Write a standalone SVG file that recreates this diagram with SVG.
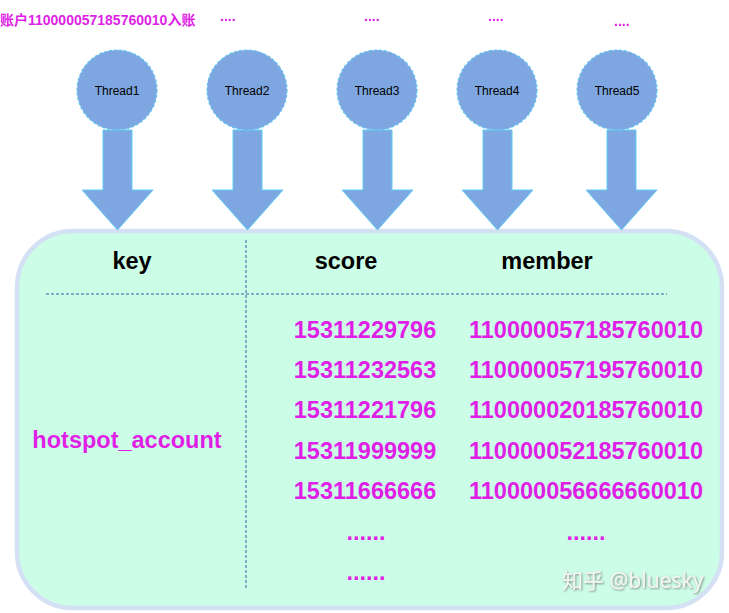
<svg xmlns="http://www.w3.org/2000/svg" width="729" height="613" viewBox="0 0 729 613">
<defs>
<style>
.circ{fill:#7ea6e0;stroke:#5fc4ef;stroke-width:1.2;stroke-dasharray:3 2}
.arrow{fill:#7ea6e0;stroke:#5fd0f5;stroke-width:1}
.tl{font-family:"Liberation Sans",Arial,sans-serif;font-size:12px;fill:#000;text-anchor:middle}
.hd{font-family:"Liberation Sans",Arial,sans-serif;font-size:23.5px;font-weight:bold;fill:#000;text-anchor:middle}
.mg{font-family:"Liberation Sans",Arial,sans-serif;font-size:23.5px;font-weight:bold;fill:#e01fe6;text-anchor:middle}
.top{font-family:"Liberation Sans","Noto Sans CJK SC",sans-serif;font-size:14px;font-weight:bold;fill:#e01fe6}
.dash{stroke:#2f63a8;stroke-width:1;stroke-dasharray:3 2;fill:none}
.wm{font-family:"Noto Sans","Noto Sans CJK SC",sans-serif;font-size:21px;fill:#f4f4f4}
</style>
<filter id="sh" x="-10%" y="-30%" width="120%" height="160%">
<feDropShadow dx="1" dy="1" stdDeviation="0.8" flood-color="#555" flood-opacity="0.7"/>
</filter>
</defs>
<rect width="729" height="613" fill="#ffffff"/>

<g id="table">
<rect x="17" y="231" width="705" height="377" rx="56" ry="56" fill="#ccfde6" stroke="#d4e0f3" stroke-width="4.5"/>
<line class="dash" x1="246" y1="240" x2="246" y2="590"/>
<line class="dash" x1="46" y1="294" x2="667" y2="294"/>
<text class="hd" x="132" y="269">key</text>
<text class="hd" x="346" y="269">score</text>
<text class="hd" x="547" y="269">member</text>
<text class="mg" x="127" y="448">hotspot_account</text>
<text class="mg" x="365" y="338">15311229796</text>
<text class="mg" x="365" y="378">15311232563</text>
<text class="mg" x="365" y="418">15311221796</text>
<text class="mg" x="365" y="459">15311999999</text>
<text class="mg" x="365" y="499">15311666666</text>
<text class="mg" x="586" y="338">110000057185760010</text>
<text class="mg" x="586" y="378">110000057195760010</text>
<text class="mg" x="586" y="418">110000020185760010</text>
<text class="mg" x="586" y="459">110000052185760010</text>
<text class="mg" x="586" y="499">110000056666660010</text>
<text class="mg" x="366" y="540">......</text>
<text class="mg" x="366" y="580">......</text>
<text class="mg" x="586" y="540">......</text>
</g>

<g id="labels">
<text class="top" x="0" y="25">账户110000057185760010入账</text>
<text class="top" x="220" y="21">....</text>
<text class="top" x="364" y="21">....</text>
<text class="top" x="488" y="21">....</text>
<text class="top" x="614" y="26">....</text>
</g>

<g id="connectors">
<path class="arrow" d="M103,130 H132 V190 H153 L117.5,230 L82,190 H103 Z"/>
<path class="arrow" d="M233,130 H262 V190 H283 L247.5,230 L212,190 H233 Z"/>
<path class="arrow" d="M363,130 H392 V190 H413 L377.5,230 L342,190 H363 Z"/>
<path class="arrow" d="M483,130 H512 V190 H533 L497.5,230 L462,190 H483 Z"/>
<path class="arrow" d="M607,130 H636 V190 H657 L621.5,230 L586,190 H607 Z"/>
</g>

<g id="thread1"><circle class="circ" cx="117" cy="90" r="40"/><text class="tl" x="117" y="95">Thread1</text></g>
<g id="thread2"><circle class="circ" cx="247" cy="90" r="40"/><text class="tl" x="247" y="95">Thread2</text></g>
<g id="thread3"><circle class="circ" cx="377" cy="90" r="40"/><text class="tl" x="377" y="95">Thread3</text></g>
<g id="thread4"><circle class="circ" cx="497" cy="90" r="40"/><text class="tl" x="497" y="95">Thread4</text></g>
<g id="thread5"><circle class="circ" cx="617" cy="90" r="40"/><text class="tl" x="617" y="95">Thread5</text></g>

<g id="watermark">
<text class="wm" x="562" y="588" filter="url(#sh)">知乎 @bluesky</text>
</g>
</svg>
